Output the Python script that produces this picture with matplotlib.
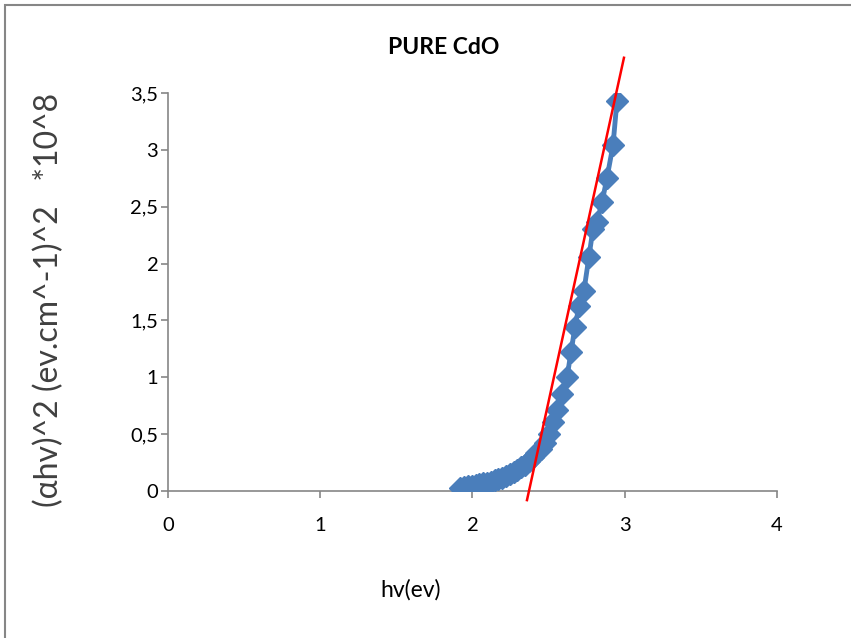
import matplotlib.pyplot as plt
from matplotlib.ticker import FuncFormatter
from matplotlib.patches import Rectangle

# photon energy (eV) and (alpha h nu)^2 in units of 10^8
hv = [1.92, 1.945, 1.97, 1.995, 2.02, 2.045, 2.07, 2.095, 2.12, 2.145, 2.17,
      2.195, 2.22, 2.245, 2.27, 2.295, 2.32, 2.345, 2.37, 2.395, 2.42, 2.45,
      2.476, 2.502, 2.529, 2.555, 2.588, 2.621, 2.647, 2.673, 2.700, 2.732,
      2.765, 2.791, 2.818, 2.851, 2.883, 2.923, 2.949]
ahv2 = [0.030, 0.035, 0.040, 0.046, 0.052, 0.058, 0.066, 0.074, 0.083, 0.093,
        0.104, 0.117, 0.131, 0.147, 0.165, 0.185, 0.207, 0.232, 0.262, 0.295,
        0.330, 0.37, 0.42, 0.50, 0.61, 0.71, 0.85, 1.00, 1.22, 1.44, 1.63,
        1.76, 2.06, 2.30, 2.37, 2.54, 2.75, 3.04, 3.43]

# tangent line drawn by hand on the original
fit_x = [2.358, 2.995]
fit_y = [-0.08, 3.81]

xticks = [0, 1, 2, 3, 4]
yticks = [0, 0.5, 1, 1.5, 2, 2.5, 3, 3.5]

plt.rcParams['font.family'] = ['Lato', 'DejaVu Sans']

fig = plt.figure(figsize=(8.51, 6.38), dpi=100)
fig.patches.append(Rectangle((0.006, -0.01), 1.05, 1.002, transform=fig.transFigure,
                             fill=False, edgecolor='#868686', linewidth=1.5))

ax = fig.add_axes([0.1974, 0.2304, 0.9130 - 0.1974, 0.8542 - 0.2304])

ax.plot(hv, ahv2, color='#4a7ebb', linewidth=3.5, marker='D', markersize=11,
        markeredgecolor='#4a7ebb', zorder=3)
ax.plot(fit_x, fit_y, color='#ff0000', linewidth=1.8, clip_on=False, zorder=4)

ax.set_xlim(0, 4)
ax.set_ylim(0, 3.5)
ax.set_xticks(xticks)
ax.set_yticks(yticks)
ax.yaxis.set_major_formatter(FuncFormatter(lambda v, p: ('%g' % v).replace('.', ',')))

for s in ['top', 'right']:
    ax.spines[s].set_visible(False)
for s in ['left', 'bottom']:
    ax.spines[s].set_color('#868686')
    ax.spines[s].set_linewidth(1.2)
ax.tick_params(colors='#868686', labelcolor='black', labelsize=14.5,
               length=5, width=1.2, direction='out')
ax.tick_params(axis='x', pad=14)
ax.tick_params(axis='y', pad=2)

fig.text(0.521, 0.926, 'PURE CdO', fontsize=16.5, fontweight='bold',
         ha='center', va='center')
fig.text(0.482, 0.075, 'hv(ev)', fontsize=16.5, ha='center', va='center')
fig.text(0.057, 0.53, '(\u03b1hv)^2 (ev.cm^-1)^2   *10^8', fontsize=23,
         rotation=90, ha='center', va='center', color='#404040')

fig.savefig('out.png', dpi=100)
